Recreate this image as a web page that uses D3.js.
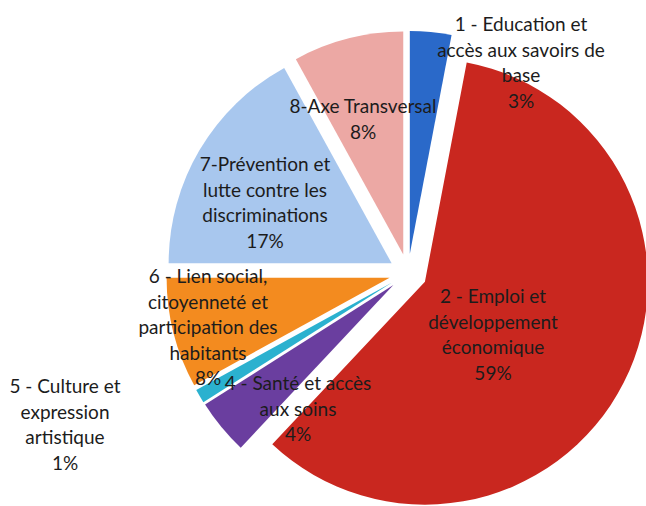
<!DOCTYPE html>
<html>
<head>
<meta charset="utf-8">
<script src="https://cdn.jsdelivr.net/npm/d3@7"></script>
<style>
  html, body { margin: 0; padding: 0; background: #fff; }
  svg { display: block; }
  text { font-family: Lato, "Open Sans", sans-serif; fill: #1c1c1c; }
</style>
</head>
<body>
<svg id="chart" width="646" height="506"></svg>
<script>
// Répartition par axe (ordre du camembert, sens horaire depuis midi)
const categories = [
  "1 - Education et accès aux savoirs de base",
  "2 - Emploi et développement économique",
  "4 - Santé et accès aux soins",
  "5 - Culture et expression artistique",
  "6 - Lien social, citoyenneté et participation des habitants",
  "7-Prévention et lutte contre les discriminations",
  "8-Axe Transversal"
];
const values = [3, 59, 4, 1, 8, 17, 8];
const colors = ["#2a69c9", "#c9271f", "#6a3e9f", "#2bb1cf", "#f38b1f", "#a8c7ee", "#eca8a4"];

// Lignes de chaque étiquette (la dernière ligne porte le pourcentage)
const labelLines = [
  ["1 - Education et", "accès aux savoirs de", "base"],
  ["2 - Emploi et", "développement", "économique"],
  ["4 - Santé et accès", "aux soins"],
  ["5 - Culture et", "expression", "artistique"],
  ["6 - Lien social,", "citoyenneté et", "participation des", "habitants"],
  ["7-Prévention et", "lutte contre les", "discriminations"],
  ["8-Axe Transversal"]
];
// Centre de chaque bloc d'étiquette (x, y de la première ligne)
const labelAnchors = [
  [521, 23], [493, 295], [298, 382], [65, 385], [208, 275], [265, 163], [363, 105]
];

const svg = d3.select("#chart");
const cx = 408, cy = 273, radius = 223, explode = 19, lineH = 25.5;

const pie = d3.pie().sort(null).value(d => d.v);
const arcs = pie(values.map((v, i) => ({ v, i })));
const arc = d3.arc().innerRadius(0).outerRadius(radius);

const g = svg.append("g").attr("transform", `translate(${cx},${cy})`);

g.selectAll("path.slice")
  .data(arcs)
  .join("path")
  .attr("class", "slice")
  .attr("d", arc)
  .attr("fill", d => colors[d.data.i])
  .attr("transform", d => {
    const a = (d.startAngle + d.endAngle) / 2;
    return `translate(${Math.sin(a) * explode},${-Math.cos(a) * explode})`;
  });

const total = d3.sum(values);
const labels = svg.append("g");
arcs.forEach(d => {
  const i = d.data.i;
  const lines = labelLines[i].concat([d3.format(".0%")(values[i] / total)]);
  const [lx, ly] = labelAnchors[i];
  const t = labels.append("text")
    .attr("text-anchor", "middle")
    .attr("dominant-baseline", "central")
    .style("font-size", "19px");
  lines.forEach((line, k) => {
    t.append("tspan").attr("x", lx).attr("y", ly + k * lineH).text(line);
  });
});
</script>
</body>
</html>
